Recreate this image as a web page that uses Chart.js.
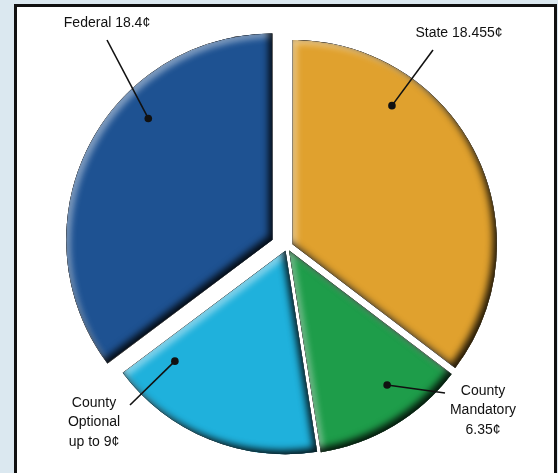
<!DOCTYPE html>
<html>
<head>
<meta charset="utf-8">
<title>Fuel tax per gallon</title>
<script src="https://cdn.jsdelivr.net/npm/chart.js@4.4.1/dist/chart.umd.min.js"></script>
<style>
  html, body { margin: 0; padding: 0; }
  body { width: 558px; height: 473px; background: #dbe8f0; position: relative; overflow: hidden; }
  #frame { position: absolute; left: 14px; top: 4px; width: 537px; height: 490px; background: #fff; border: 3px solid #111; }
  #wrap { position: absolute; left: 0; top: 0; width: 558px; height: 473px; }
</style>
</head>
<body>
<div id="frame"></div>
<div id="wrap"><canvas id="taxChart" width="558" height="473"></canvas></div>
<script>
// Data (cents per gallon), clockwise from 12 o'clock
const categories = ['State', 'County Mandatory', 'County Optional', 'Federal'];
const taxCents = [18.455, 6.35, 9, 18.4];
const labelText = [
  ['State 18.455¢'],
  ['County', 'Mandatory', '6.35¢'],
  ['County', 'Optional', 'up to 9¢'],
  ['Federal 18.4¢']
];

// Look
const sliceColors = ['#e0a12e', '#1e9d4a', '#1fb1dc', '#1e5292'];
const sliceOffsets = [25, 16, 16, 65];

// Callout placement: dot inside the slice (fraction along the arc, fraction of radius),
// leader line end and text centre
const callouts = [
  { along: 0.28, depth: 0.84, lineX: 433, lineY: 50, textX: 459, textY: 33 },
  { along: 0.38, depth: 0.82, lineX: 445, lineY: 393, textX: 483, textY: 391 },
  { along: 0.87, depth: 0.77, lineX: 130, lineY: 405, textX: 94, textY: 403 },
  { along: 0.64, depth: 0.855, lineX: 107, lineY: 40, textX: 107, textY: 23 }
];

// same geometry Chart.js uses for an offset arc
function arcShape(arc) {
  const p = arc.getProps(['x', 'y', 'startAngle', 'endAngle', 'outerRadius'], true);
  const shift = (arc.options.offset || 0) / 4;
  const mid = (p.startAngle + p.endAngle) / 2;
  const fix = 1 - Math.sin(Math.min(Math.PI, p.endAngle - p.startAngle));
  return {
    x: p.x + Math.cos(mid) * shift,
    y: p.y + Math.sin(mid) * shift,
    r: p.outerRadius + shift * fix,
    start: p.startAngle,
    end: p.endAngle
  };
}

function tracePie(ctx, s) {
  ctx.moveTo(s.x, s.y);
  ctx.arc(s.x, s.y, s.r, s.start, s.end);
  ctx.closePath();
}

// inner shadow / highlight so the slices look bevelled (light from top-left)
const bevelPlugin = {
  id: 'bevel',
  afterDatasetsDraw(chart) {
    const ctx = chart.ctx;
    chart.getDatasetMeta(0).data.forEach(arc => {
      const s = arcShape(arc);
      const passes = [
        { color: 'rgba(255,255,255,0.45)', dx: 4, dy: 4, blur: 6 },
        { color: 'rgba(0,0,0,0.85)', dx: -4, dy: -4, blur: 7 }
      ];
      passes.forEach(p => {
        ctx.save();
        ctx.beginPath();
        tracePie(ctx, s);
        ctx.clip();
        ctx.beginPath();
        ctx.rect(-600, -600, 1800, 1800);
        tracePie(ctx, s);
        ctx.shadowColor = p.color;
        ctx.shadowBlur = p.blur;
        ctx.shadowOffsetX = p.dx;
        ctx.shadowOffsetY = p.dy;
        ctx.fillStyle = '#000';
        ctx.fill('evenodd');
        ctx.restore();
      });
    });
  }
};

const calloutPlugin = {
  id: 'callouts',
  afterDatasetsDraw(chart) {
    const ctx = chart.ctx;
    const arcs = chart.getDatasetMeta(0).data;
    ctx.save();
    ctx.font = '14px "Liberation Sans", Arial, sans-serif';
    ctx.fillStyle = '#111';
    ctx.strokeStyle = '#111';
    ctx.lineWidth = 1.6;
    ctx.textAlign = 'center';
    ctx.textBaseline = 'middle';
    arcs.forEach((arc, i) => {
      const c = callouts[i];
      const s = arcShape(arc);
      const a = s.start + (s.end - s.start) * c.along;
      const px = s.x + Math.cos(a) * arc.outerRadius * c.depth;
      const py = s.y + Math.sin(a) * arc.outerRadius * c.depth;

      ctx.beginPath();
      ctx.moveTo(px, py);
      ctx.lineTo(c.lineX, c.lineY);
      ctx.stroke();
      ctx.beginPath();
      ctx.arc(px, py, 3.8, 0, Math.PI * 2);
      ctx.fill();

      labelText[i].forEach((line, k) => {
        ctx.fillText(line, c.textX, c.textY + k * 19.5);
      });
    });
    ctx.restore();
  }
};

new Chart(document.getElementById('taxChart'), {
  type: 'pie',
  data: {
    labels: categories,
    datasets: [{
      data: taxCents,
      backgroundColor: sliceColors,
      borderWidth: 0,
      offset: sliceOffsets,
      hoverOffset: 0,
      radius: 203,
      clip: false
    }]
  },
  options: {
    responsive: false,
    animation: false,
    events: [],
    layout: { padding: { left: 16, top: 21, right: 0, bottom: 0 } },
    plugins: {
      legend: { display: false },
      tooltip: { enabled: false }
    }
  },
  plugins: [bevelPlugin, calloutPlugin]
});
</script>
</body>
</html>
